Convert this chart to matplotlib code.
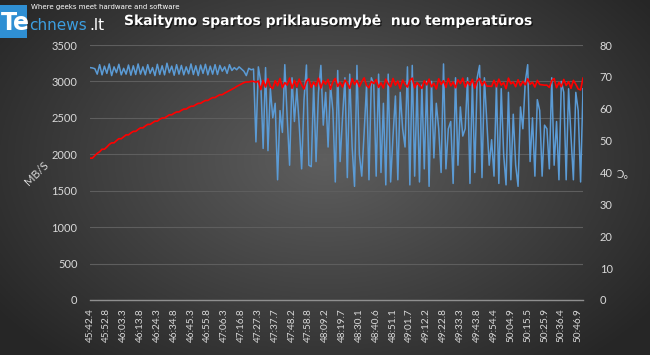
import numpy as np
import matplotlib
matplotlib.use('Agg')
import matplotlib.pyplot as plt
from matplotlib.patches import Rectangle
import matplotlib.patheffects as pe

########
# data
########
time_labels = ['45:42.4', '45:52.8', '46:03.3', '46:13.8', '46:24.3', '46:34.8',
               '46:45.3', '46:55.8', '47:06.3', '47:16.8', '47:27.3', '47:37.7',
               '47:48.2', '47:58.8', '48:09.2', '48:19.7', '48:30.1', '48:40.6',
               '48:51.1', '49:01.7', '49:12.2', '49:22.8', '49:33.3', '49:43.8',
               '49:54.4', '50:04.9', '50:15.5', '50:25.9', '50:36.4', '50:46.9']
label_step = 7  # samples between two time labels

# read speed, MB/s (left axis)
speed = [
    3190, 3185, 3175, 3100, 3230, 3090, 3210, 3110, 3240, 3080,
    3200, 3120, 3235, 3090, 3180, 3100, 3225, 3085, 3215, 3095,
    3240, 3100, 3200, 3090, 3230, 3110, 3190, 3080, 3235, 3095,
    3215, 3090, 3250, 3120, 3210, 3085, 3230, 3100, 3220, 3090,
    3200, 3105, 3240, 3095, 3215, 3080, 3225, 3110, 3235, 3090,
    3210, 3100, 3230, 3095, 3220, 3140, 3200, 3110, 3230, 3150,
    3190, 3160, 3200, 3170, 3140, 3080, 3180, 3160,
    3170, 2170, 3200, 3000, 2080, 3190, 2050, 2900, 2500, 2700,
    1650, 2600, 2300, 3230, 2500, 1850, 3050, 2450, 2900, 2400,
    1800, 2750, 3225, 1850, 1830, 2950, 1900, 2850, 3220, 2400,
    2850, 2100, 2950, 2600, 1620, 3150, 1900, 2500, 3050, 1680,
    3100, 2100, 1560, 3220, 2000, 1700, 2300, 2950, 1650, 3050,
    2950, 1700, 3100, 1750, 2700, 1580, 3100, 1620, 2250, 2800,
    1650, 2850, 2350, 2100, 3200, 1580, 3220, 1700, 2950, 1620,
    2950, 1800, 3000, 1560, 3000, 1950, 2700, 2350, 1750, 3240,
    1800, 2350, 2450, 1600, 3050, 1850, 2650, 2250, 2350, 3050,
    1600, 3000, 1750, 3050, 3220, 1680, 3050, 2450, 1850, 2200,
    1700, 2950, 1600, 2900, 2000, 1580, 2850, 1650, 2550, 1850,
    1560, 2650, 2350, 3000, 3230, 1900, 2500, 1700, 2750, 2600,
    1700, 2400, 2350, 1800, 3050, 1850, 2450, 1650, 3000, 2850,
    1650, 2900, 2250, 1650, 2850, 2600, 1620, 2900]

# temperature, deg C (right axis)
temp = [
    44.5, 44.5, 45.3, 46.0, 46.5, 47.3, 47.3, 48.0, 48.8, 49.3,
    49.3, 50.0, 50.6, 50.6, 51.2, 51.8, 51.8, 52.4, 52.9, 52.9,
    53.5, 54.0, 54.0, 54.6, 55.1, 55.1, 55.6, 56.1, 56.1, 56.7,
    57.1, 57.1, 57.6, 58.1, 58.1, 58.6, 59.0, 59.0, 59.5, 59.9,
    59.9, 60.4, 60.8, 60.8, 61.3, 61.7, 61.7, 62.2, 62.6, 62.6,
    63.1, 63.5, 63.5, 64.0, 64.4, 64.4, 64.9, 65.3, 65.7, 66.1,
    66.5, 67.0, 67.4, 67.8, 68.2, 68.4, 68.4, 68.6,
    68.6, 68.3, 68.7, 66.0, 68.9, 66.8, 69.4, 67.0, 66.3, 68.8,
    67.2, 69.5, 66.6, 68.2, 67.4, 69.6, 66.4, 68.9, 66.9, 69.3,
    67.5, 66.2, 68.7, 69.4, 66.7, 68.4, 67.1, 69.6, 66.5, 68.8,
    67.7, 69.2, 66.1, 68.5, 69.5, 67.0, 68.3, 66.8, 69.0, 68.0,
    66.4, 69.4, 67.6, 68.9, 66.9, 68.5, 69.7, 67.3, 66.6, 68.6,
    67.9, 69.2, 66.7, 68.1, 66.5, 69.3, 67.8, 66.9, 69.5, 67.4,
    68.7, 66.3, 69.0, 67.7, 66.8, 68.9, 69.6, 66.6, 68.2, 67.3,
    66.4, 68.8, 67.5, 69.3, 66.9, 68.0, 66.2, 69.4, 67.6, 68.8,
    66.7, 69.5, 67.2, 68.4, 66.6, 69.1, 67.9, 69.6, 66.8, 68.5,
    67.4, 69.2, 66.5, 68.7, 69.5, 67.3, 68.6, 67.1, 67.1, 67.0,
    68.9, 66.9, 69.3, 67.4, 68.2, 66.3, 69.6, 67.8, 68.4, 66.9,
    69.1, 67.2, 68.6, 67.5, 69.4, 67.7, 68.3, 66.8, 68.9, 67.6,
    67.5, 67.4, 67.4, 66.7, 68.8, 69.5, 66.6, 68.3, 66.9, 69.2,
    67.3, 68.5, 66.4, 68.9, 67.7, 66.2, 65.9, 69.6]

title = 'Skaitymo spartos priklausomybė  nuo temperatūros'

########
# figure + dark radial background
########
fig = plt.figure(figsize=(6.5, 3.55), dpi=100)
bg = fig.add_axes([0, 0, 1, 1], zorder=0)
bg.axis('off')
yy, xx = np.mgrid[0:1:200j, 0:1:400j]
d = np.sqrt(((xx - 0.5) / 0.62) ** 2 + ((yy - 0.45) / 0.75) ** 2)
shade = np.clip(1 - d, 0, 1)
dark, light = np.array([0.15, 0.15, 0.15]), np.array([0.37, 0.37, 0.37])
img = dark + (light - dark) * shade[..., None]
bg.imshow(img, aspect='auto', extent=[0, 1, 0, 1], origin='upper')
bg.set_xlim(0, 1)
bg.set_ylim(0, 1)

txt_col = '#d9d9d9'
ax = fig.add_axes([90 / 650, 1 - 300 / 355, 493 / 650, 255 / 355], zorder=1)
ax.set_facecolor('none')
x = np.arange(len(speed))

ax.plot(x, speed, color='#5b9bd5', lw=1.1, zorder=3)
ax.set_ylim(0, 3500)
ax.set_yticks(np.arange(0, 3501, 500))
ax.set_xlim(0, len(speed) - 1)
ax.set_xticks(x[::label_step][:len(time_labels)])
ax.set_xticklabels(time_labels, rotation=90, fontsize=7.2, color=txt_col, family='Lato')
ax.grid(axis='y', color='#5e5e5e', lw=0.8)
ax.tick_params(axis='both', length=0, colors=txt_col)
ax.tick_params(axis='x', pad=6)
ax.tick_params(axis='y', pad=9, labelsize=8)
for s in ['top', 'right', 'left']:
    ax.spines[s].set_visible(False)
ax.spines['bottom'].set_color('#8f8f8f')
ax.spines['bottom'].set_linewidth(1.0)
for t in ax.get_yticklabels():
    t.set_family('Lato')

ax2 = ax.twinx()
ax2.plot(x, temp, color='#ff0000', lw=1.2, zorder=4)
ax2.set_ylim(0, 80)
ax2.set_yticks(np.arange(0, 81, 10))
ax2.tick_params(axis='y', length=0, colors=txt_col, labelsize=8, pad=12)
for t in ax2.get_yticklabels():
    t.set_family('Lato')
for s in ax2.spines.values():
    s.set_visible(False)

# axis titles
fig.text(37 / 650, 1 - 173 / 355, 'MB/S', rotation=45, color=txt_col, fontsize=8,
         ha='center', va='center', family='Lato')
fig.text(622 / 650, 1 - 172 / 355, '°C', rotation=180, color=txt_col, fontsize=8,
         ha='center', va='center', family='Lato')

# title
fig.text(124 / 650, 1 - 21 / 355, title, color='white', fontsize=10, fontweight='bold',
         ha='left', va='center', family='DejaVu Sans',
         path_effects=[pe.withSimplePatchShadow(offset=(1, -1), shadow_rgbFace='black', alpha=0.6)])

# logo
fig.patches.append(Rectangle((0, 1 - 38 / 355), 27 / 650, 33 / 355, transform=fig.transFigure,
                             facecolor='#2f8fd3', edgecolor='none', zorder=2))
fig.text(1 / 650, 1 - 23 / 355, 'Te', color='white', fontsize=17, fontweight='bold',
         ha='left', va='center', family='DejaVu Sans', zorder=3)
fig.text(29 / 650, 1 - 25 / 355, 'chnews', color='#3c9ee0', fontsize=11,
         ha='left', va='center', family='DejaVu Sans')
fig.text(89 / 650, 1 - 25 / 355, '.lt', color='white', fontsize=11,
         ha='left', va='center', family='DejaVu Sans')
fig.text(31 / 650, 1 - 7 / 355, 'Where geeks meet hardware and software', color='white',
         fontsize=5, ha='left', va='center', family='DejaVu Sans')

fig.savefig('out.png', dpi=100)
